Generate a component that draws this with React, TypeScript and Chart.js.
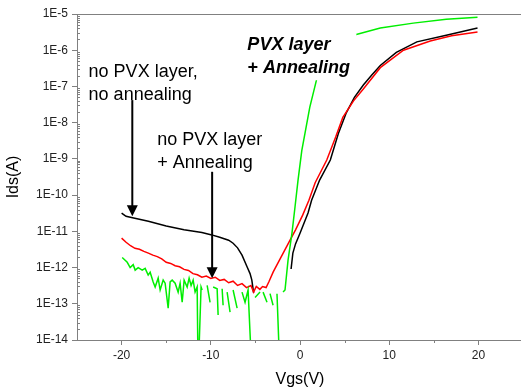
import React, { useEffect, useRef } from 'react';
import { Chart, registerables } from 'chart.js';
Chart.register(...registerables);

// ---- data ----
const blackX = [-20, -19.5, -18.9, -17, -15, -13, -11, -10, -9, -8, -7.5, -7, -6.5, -5.9, -5.6, -5.4, -5.2, -3, -1.0, -0.8, -0.5, 0, 0.9, 1.3, 2.2, 3.4, 4.3, 5.2, 6.1, 7.1, 8, 9, 10.8, 13.1, 16.4, 19.9];
const blackY = [3.2e-11, 2.6e-11, 2.4e-11, 1.9e-11, 1.4e-11, 1.1e-11, 9.3e-12, 8.1e-12, 6.9e-12, 5.7e-12, 4.7e-12, 3.5e-12, 2.2e-12, 1.0e-12, 6.8e-13, 4.5e-13, 2.0e-13, null, 9.1e-13, 2.5e-12, 4.5e-12, 8.9e-12, 3.2e-11, 7.2e-11, 2.6e-10, 9.3e-10, 5.0e-9, 1.9e-8, 5.0e-8, 1.1e-7, 2.0e-7, 3.8e-7, 8.7e-7, 1.7e-6, 2.6e-6, 4.1e-6];

const redX = [-20, -19.5, -19, -18.5, -18, -17.5, -17, -16.5, -16, -15.5, -15, -14.5, -14, -13.5, -13, -12.5, -12, -11.5, -11, -10.5, -10, -9.5, -9, -8.5, -8, -7.5, -7, -6.5, -6, -5.5, -5.2, -4.9, -4.5, -4.2, -3.8, -3.5, -3.0, -2.2, -1.1, -0.5, 0.3, 1.0, 1.7, 3.0, 4.0, 4.8, 6.0, 7.1, 9.0, 11.6, 14.6, 17, 19.9];
const redY = [6.5e-12, 5.0e-12, 4.0e-12, 3.4e-12, 3.2e-12, 2.8e-12, 2.5e-12, 2.2e-12, 2.0e-12, 1.74e-12, 1.4e-12, 1.3e-12, 1.12e-12, 1.05e-12, 8.9e-13, 8.3e-13, 6.8e-13, 6.3e-13, 5.4e-13, 5.8e-13, 5.0e-13, 5.4e-13, 4.4e-13, 4.7e-13, 3.8e-13, 4.2e-13, 3.2e-13, 3.6e-13, 2.8e-13, 3.2e-13, 2.1e-13, 3.0e-13, 2.5e-13, 3.0e-13, 2.8e-13, 4.0e-13, 7.6e-13, 1.8e-12, 5.8e-12, 1.1e-11, 2.8e-11, 7.2e-11, 2.2e-10, 9.3e-10, 4.0e-9, 1.4e-8, 4.0e-8, 8.5e-8, 3.3e-7, 1.0e-6, 1.8e-6, 2.5e-6, 3.2e-6];

const greenX = [-19.93, -19.37, -19.04, -18.7, -18.48, -18.14, -17.69, -17.36, -17.02, -16.8, -16.46, -16.24, -15.9, -15.68, -15.34, -15.12, -14.78, -14.56, -14.33, -14.0, -13.66, -13.44, -13.21, -12.99, -12.65, -12.43, -12.21, -11.98, -11.76, -11.53, -11.42, -11.09, -10.97, -10.7, -10.41, -10.08, -9.9, -9.74, -9.29, -9.18, -8.95, -8.73, -8.62, -8.4, -8.17, -7.84, -7.65, -7.5, -7.05, -6.8, -6.5, -6.16, -5.82, -5.38, -5.2, -5.04, -4.48, -4.3, -4.14, -3.7, -3.5, -3.36, -3.02, -2.8, -2.58, -2.24, -2.05, -1.9, -1.68, -1.34, -0.9, -0.56, -0.22, 0.2, 1.1, 1.9, 2.6, 3.5, 4.6, 6.0, 9.0, 12.7, 16.4, 19.9];
const greenY = [1.9e-12, 1.4e-12, 1.0e-12, 1.2e-12, 8.5e-13, 1.0e-12, 8.5e-13, 9.5e-13, 6.2e-13, 7.4e-13, 4.0e-13, 2.9e-13, 5.1e-13, 2.4e-13, 4.5e-13, 3.7e-13, 7.6e-14, 4.0e-13, 4.5e-13, 3.7e-13, 2.1e-13, 3.7e-13, 1.1e-13, 4.5e-13, 2.9e-13, 5.1e-13, 3.2e-13, 4.5e-13, 2.1e-13, 2.9e-13, 1e-15, 2.9e-13, 2.4e-13, null, 3.2e-13, 1.1e-13, null, 2.9e-13, 2.6e-13, 4.9e-14, null, 2.6e-13, 9.1e-14, null, 2.1e-13, 5.9e-14, null, 2.4e-13, 7.6e-14, null, 2.1e-13, 1.1e-13, 2.4e-13, 1e-15, null, 1.5e-13, 2.1e-13, null, 2.1e-13, 1.1e-13, null, 1.9e-13, 9.1e-14, null, 1.9e-13, 1e-15, null, 2.1e-13, 2.4e-13, 1.6e-12, 8.9e-12, 4.7e-11, 2.6e-10, 1.7e-9, 2.7e-8, 1.7e-7, 5.5e-7, 1.2e-6, 2.0e-6, 2.6e-6, 4.1e-6, 5.6e-6, 7.2e-6, 8.1e-6];

const xTickValues = [-20, -10, 0, 10, 20];
const xTickLabels = ['-20', '-10', '0', '10', '20'];
const xMinorTicks = [-15, -5, 5, 15];
const yTickValues = [1e-14, 1e-13, 1e-12, 1e-11, 1e-10, 1e-9, 1e-8, 1e-7, 1e-6, 1e-5];
const yTickLabels = ['1E-14', '1E-13', '1E-12', '1E-11', '1E-10', '1E-9', '1E-8', '1E-7', '1E-6', '1E-5'];

const label1 = ['no PVX layer,', 'no annealing'];
const label2 = ['no PVX layer', '+ Annealing'];
const label3 = ['PVX layer', '+ Annealing'];

const FONT = '"Liberation Sans", Arial, sans-serif';
const AXIS = '#808080';

const pts = (xs: number[], ys: (number | null)[]) => xs.map((x, i) => ({ x, y: ys[i] }));

const overlay = {
  id: 'overlay',
  afterDraw(chart: any) {
    const { ctx, chartArea, scales } = chart;
    const xs = scales.x, ys = scales.y;
    ctx.save();
    // top border
    ctx.strokeStyle = AXIS;
    ctx.lineWidth = 1;
    ctx.beginPath();
    ctx.moveTo(chartArea.left, chartArea.top + 0.5);
    ctx.lineTo(chartArea.right, chartArea.top + 0.5);
    ctx.stroke();
    // y minor ticks (inside)
    ctx.beginPath();
    for (let e = -14; e < -5; e++) {
      for (let k = 2; k <= 9; k++) {
        const py = Math.round(ys.getPixelForValue(k * Math.pow(10, e))) + 0.5;
        ctx.moveTo(chartArea.left, py);
        ctx.lineTo(chartArea.left + 3, py);
      }
    }
    // x minor ticks
    for (const v of xMinorTicks) {
      const px = Math.round(xs.getPixelForValue(v)) + 0.5;
      ctx.moveTo(px, chartArea.bottom);
      ctx.lineTo(px, chartArea.bottom + 3);
    }
    ctx.stroke();

    // white box behind bold label
    const l3x = xs.getPixelForValue(-5.9);
    const l3y = ys.getPixelForValue(1.0e-6);
    ctx.fillStyle = '#ffffff';
    ctx.fillRect(l3x - 3, l3y - 17, 112, 47);

    ctx.fillStyle = '#000';
    ctx.textBaseline = 'alphabetic';
    ctx.textAlign = 'left';
    ctx.font = `18px ${FONT}`;
    const l1x = xs.getPixelForValue(-23.7), l1y = ys.getPixelForValue(1.8e-7);
    label1.forEach((t, i) => ctx.fillText(t, l1x, l1y + i * 23));
    const l2x = xs.getPixelForValue(-16.0), l2y = ys.getPixelForValue(2.4e-9);
    label2.forEach((t, i) => ctx.fillText(t, l2x, l2y + i * 23));
    ctx.font = `italic bold 18px ${FONT}`;
    label3.forEach((t, i) => ctx.fillText(t, l3x, l3y + i * 23));

    const arrow = (xv: number, y0: number, y1: number) => {
      const px = xs.getPixelForValue(xv);
      const top = ys.getPixelForValue(y0);
      const tip = ys.getPixelForValue(y1);
      ctx.strokeStyle = '#000';
      ctx.lineWidth = 2;
      ctx.beginPath();
      ctx.moveTo(px, top);
      ctx.lineTo(px, tip - 10);
      ctx.stroke();
      ctx.beginPath();
      ctx.moveTo(px - 5.5, tip - 11);
      ctx.lineTo(px + 5.5, tip - 11);
      ctx.lineTo(px, tip);
      ctx.closePath();
      ctx.fill();
    };
    arrow(-18.8, 4.2e-8, 2.6e-11);
    arrow(-9.85, 4.4e-10, 5.1e-13);
    ctx.restore();
  },
};

export default function App() {
  const ref = useRef<HTMLCanvasElement>(null);
  useEffect(() => {
    if (!ref.current) return;
    const ds = (data: any[], color: string) => ({
      data,
      borderColor: color,
      backgroundColor: color,
      borderWidth: 1.5,
      pointRadius: 0,
      tension: 0,
      spanGaps: false,
      fill: false,
    });
    const chart = new Chart(ref.current, {
      type: 'line',
      data: {
        datasets: [
          ds(pts(greenX, greenY), '#00ee00'),
          ds(pts(redX, redY), '#ff0000'),
          ds(pts(blackX, blackY), '#000000'),
        ],
      },
      options: {
        animation: false,
        responsive: false,
        devicePixelRatio: 1,
        layout: { padding: { left: 0, right: 0, top: 14, bottom: 0 } },
        plugins: { legend: { display: false }, tooltip: { enabled: false } },
        scales: {
          x: {
            type: 'linear',
            min: -25,
            max: 25,
            afterBuildTicks: (s: any) => { s.ticks = xTickValues.map((v) => ({ value: v })); },
            afterFit: (s: any) => { s.height = 51; },
            ticks: {
              autoSkip: false,
              maxRotation: 0,
              padding: 3,
              color: '#222',
              font: { family: FONT, size: 12 },
              callback: (v: any) => xTickLabels[xTickValues.indexOf(Number(v))] ?? '',
            },
            grid: { drawOnChartArea: false, tickLength: 5, tickColor: AXIS },
            border: { display: true, color: AXIS, width: 1 },
            title: { display: true, text: 'Vgs(V)', color: '#000', font: { family: FONT, size: 16 }, padding: { top: 4, bottom: 2 } },
          },
          y: {
            type: 'logarithmic',
            min: 1e-14,
            max: 1e-5,
            afterBuildTicks: (s: any) => { s.ticks = yTickValues.map((v) => ({ value: v })); },
            afterFit: (s: any) => { s.width = 77; },
            ticks: {
              autoSkip: false,
              padding: 4,
              color: '#222',
              font: { family: FONT, size: 12 },
              callback: (v: any) => {
                const i = yTickValues.findIndex((t) => Math.abs(Math.log10(t) - Math.log10(Number(v))) < 0.01);
                return i >= 0 ? yTickLabels[i] : '';
              },
            },
            grid: { drawOnChartArea: false, tickLength: 5, tickColor: AXIS },
            border: { display: true, color: AXIS, width: 1 },
            title: { display: true, text: 'Ids(A)', color: '#000', font: { family: FONT, size: 16 }, padding: { top: 4, bottom: 0 } },
          },
        },
      },
      plugins: [overlay],
    });
    return () => chart.destroy();
  }, []);
  return (
    <div style={{ position: 'fixed', left: 0, top: 0, width: 521, height: 391, overflow: 'hidden', background: '#fff' }}>
      <canvas ref={ref} width={523} height={391} style={{ display: 'block' }} />
    </div>
  );
}
